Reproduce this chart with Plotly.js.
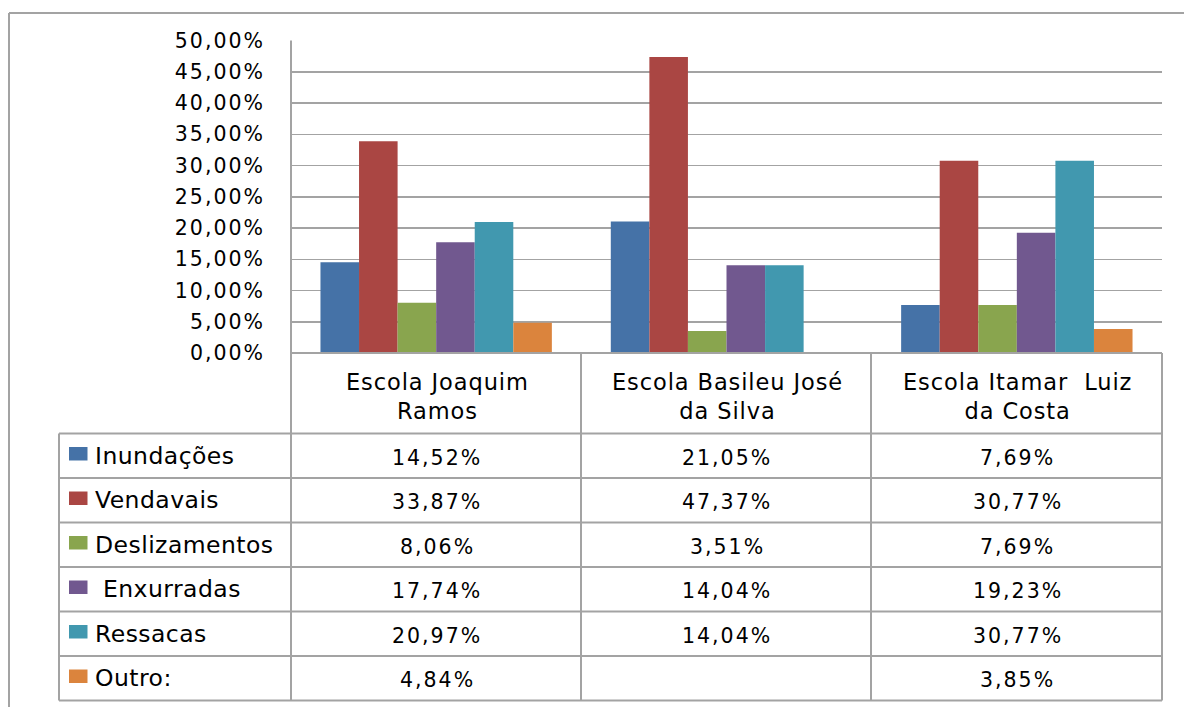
<!DOCTYPE html>
<html><head><meta charset="utf-8">
<script src="https://cdn.plot.ly/plotly-3.0.1.min.js"></script>
<style>body{margin:0;background:#fff} .ytick text{letter-spacing:2px}</style>
</head><body><div id="chart" style="width:1184px;height:707px"></div>
<script>
// ---- data ----
const schools = ["Escola Joaquim Ramos", "Escola Basileu José da Silva", "Escola Itamar  Luiz da Costa"];
const schoolLabels = ["Escola Joaquim<br>Ramos", "Escola Basileu José<br>da Silva", "Escola Itamar\u00a0 Luiz<br>da Costa"];
const seriesNames = ["Inundações", "Vendavais", "Deslizamentos", " Enxurradas", "Ressacas", "Outro:"];
const inundacoes = [14.52, 21.05, 7.69];
const vendavais = [33.87, 47.37, 30.77];
const deslizamentos = [8.06, 3.51, 7.69];
const enxurradas = [17.74, 14.04, 19.23];
const ressacas = [20.97, 14.04, 30.77];
const outro = [4.84, null, 3.85];
const seriesValues = [inundacoes, vendavais, deslizamentos, enxurradas, ressacas, outro];
const colors = ['#4572A7', '#AA4643', '#89A54E', '#71588F', '#4198AF', '#DB843D'];

// ---- geometry (pixels) ----
const W = 1184, H = 707;
const plotL = 291, plotR = 1162, plotT = 40.5, plotB = 353;
const headerB = 433.5, rowH = 44.5, tableL = 59;
const colX = [291, 581, 871, 1162];
const px = x => x / W, py = y => 1 - y / H;
const lineColor = '#A3A3A3';
const FONT = 'DejaVu Sans, sans-serif';

const fmt = v => v.toFixed(2).replace('.', ',') + '%';
const spaced = (t, s) => t.split('<br>').map(p => '<span style="letter-spacing:' + s + 'px">' + p + '</span>').join('<br>');

const traces = seriesValues.map((vals, i) => ({
  type: 'bar', x: schools, y: vals, name: seriesNames[i].trim(),
  marker: {color: colors[i], line: {width: 0}}, hoverinfo: 'x+y'
}));

const shapes = [];
const line = (x0, y0, x1, y1, c, w) => shapes.push({type: 'line', xref: 'paper', yref: 'paper',
  x0: px(x0), y0: py(y0), x1: px(x1), y1: py(y1), line: {color: c || lineColor, width: w || 2}});

// outer border
line(9, 13, 1190, 13);
line(9, 13, 9, 720);
// y axis line + x axis line
line(plotL, plotT, plotL, headerB + rowH * 6);
line(plotL, plotB, plotR, plotB);
// table verticals
for (let i = 1; i < colX.length; i++) line(colX[i], plotB, colX[i], headerB + rowH * 6);
line(tableL, headerB, tableL, headerB + rowH * 6);
// table horizontals
for (let r = 0; r <= 6; r++) line(tableL, headerB + rowH * r, plotR, headerB + rowH * r);

const annotations = [];
// header labels
schoolLabels.forEach((lab, i) => annotations.push({
  xref: 'paper', yref: 'paper', x: px((colX[i] + colX[i + 1]) / 2 + 1), y: py(396),
  xanchor: 'center', yanchor: 'middle', showarrow: false, text: spaced(lab, 0.9), align: 'center',
  font: {family: FONT, size: 22.5, color: '#000'}
}));
// rows
seriesNames.forEach((name, r) => {
  const top = headerB + rowH * r;
  shapes.push({type: 'rect', xref: 'paper', yref: 'paper', x0: px(69), x1: px(87.5),
    y0: py(top + 13.5), y1: py(top + 27), fillcolor: colors[r], line: {width: 0}});
  annotations.push({xref: 'paper', yref: 'paper', x: px(93), y: py(top + rowH / 2),
    xanchor: 'left', yanchor: 'middle', showarrow: false,
    text: spaced(name.replace(/^ /, '\u00a0'), 0.45), font: {family: FONT, size: 23.5, color: '#000'}});
  seriesValues[r].forEach((v, c) => {
    if (v === null) return;
    annotations.push({xref: 'paper', yref: 'paper', x: px((colX[c] + colX[c + 1]) / 2 + 1), y: py(top + rowH / 2 + 2),
      xanchor: 'center', yanchor: 'middle', showarrow: false, text: spaced(fmt(v), 2),
      font: {family: FONT, size: 20.5, color: '#000'}});
  });
});

const layout = {
  width: W, height: H, margin: {l: 0, r: 0, t: 0, b: 0},
  paper_bgcolor: '#fff', plot_bgcolor: '#fff',
  separators: ',.',
  barmode: 'group', bargap: 0.203, bargroupgap: 0,
  showlegend: false,
  xaxis: {domain: [px(plotL), px(plotR)], showticklabels: false, showgrid: false, zeroline: false, showline: false, ticks: ''},
  yaxis: {domain: [py(plotB), py(plotT)], range: [0, 50], dtick: 5, tickformat: '.2f', ticksuffix: '%',
    showgrid: true, gridcolor: '#A3A3A3', gridwidth: 1.5, zeroline: false, showline: false,
    ticks: '', ticklabelstandoff: 25, tickfont: {family: FONT, size: 20.5, color: '#000'}},
  shapes: shapes, annotations: annotations
};

Plotly.newPlot('chart', traces, layout, {displayModeBar: false, staticPlot: true});
</script>
</body></html>
